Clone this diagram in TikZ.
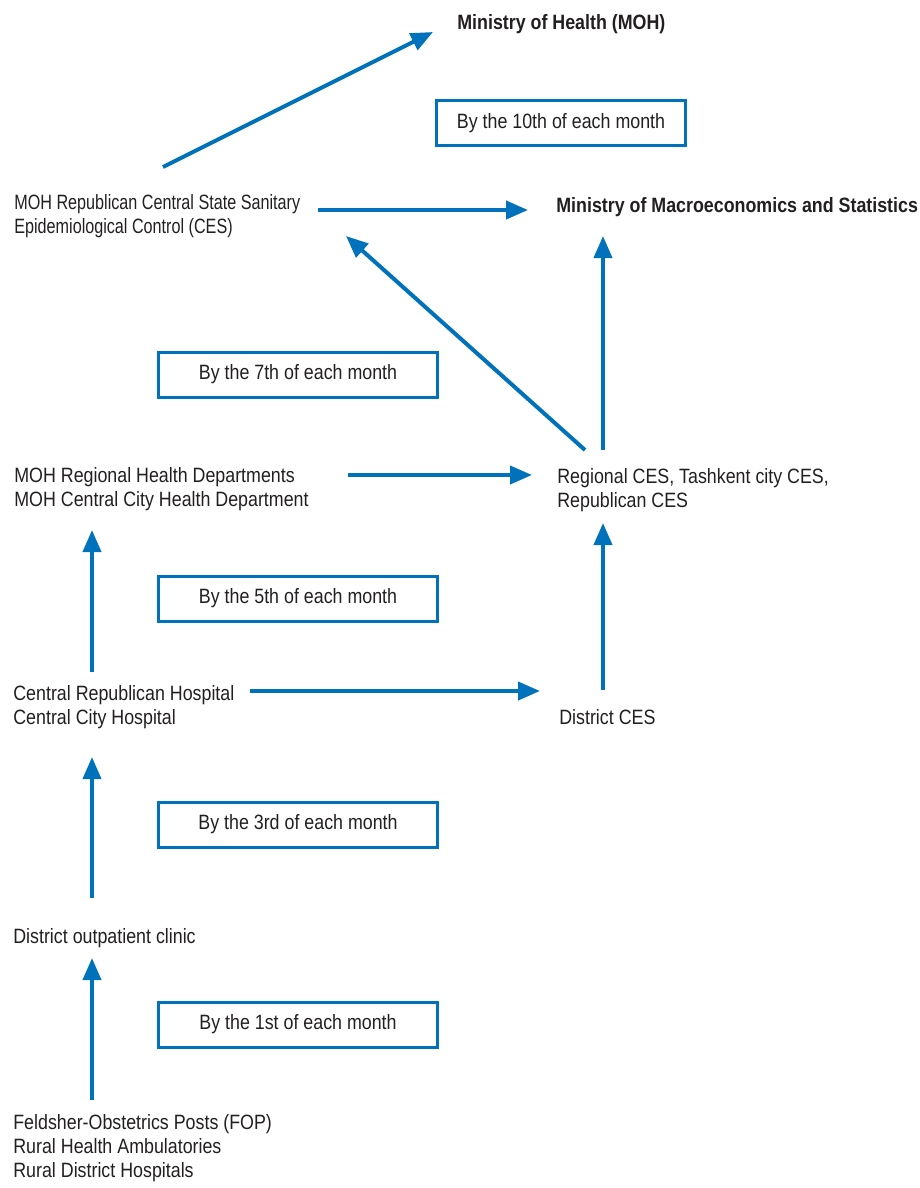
\documentclass[tikz,border=0pt]{standalone}
\usepackage{fontspec}
\setmainfont[FakeStretch=0.86]{Liberation Sans}
\newfontfamily\narrowfont[FakeStretch=0.78]{Liberation Sans}
\usepackage{tikz}
\usetikzlibrary{arrows.meta,calc}

\definecolor{flowblue}{RGB}{0,114,187}
\definecolor{inkgray}{RGB}{35,31,32}

\tikzset{
  unit/.style={anchor=north west,inner sep=0pt,align=left,text=inkgray,
    font=\fontsize{11.8}{13.6}\selectfont},
  deadline/.style={draw=flowblue,line width=0.6mm,minimum width=5.6cm,
    minimum height=0.9cm,text=inkgray,font=\fontsize{11.8}{13.6}\selectfont},
  flow/.style={draw=flowblue,line width=0.8mm,
    -{Triangle[length=4.4mm,width=3.6mm]}}
}

\begin{document}
\begin{tikzpicture}[x=0.02cm,y=-0.02cm]
\useasboundingbox (0,0) rectangle (920,1188);

% reporting units
\node[unit,font=\fontsize{11.8}{13.6}\selectfont\bfseries] (moh) at (457,14) {Ministry of Health (MOH)};
\node[unit,font=\fontsize{11.8}{13.6}\selectfont\bfseries] (macro) at (556,197) {Ministry of Macroeconomics and Statistics};
\node[unit,font=\fontsize{11.8}{13.6}\narrowfont] (ces) at (14,194) {MOH Republican Central State Sanitary\\Epidemiological Control (CES)};
\node[unit] (dept) at (14,467) {MOH Regional Health Departments\\MOH Central City Health Department};
\node[unit] (regces) at (557,468) {Regional CES, Tashkent city CES,\\Republican CES};
\node[unit] (hosp) at (13,685) {Central Republican Hospital\\Central City Hospital};
\node[unit] (distces) at (559,709) {District CES};
\node[unit] (clinic) at (13,928) {District outpatient clinic};
\node[unit] (fop) at (13,1114) {Feldsher-Obstetrics Posts (FOP)\\Rural Health Ambulatories\\Rural District Hospitals};

% deadlines
\node[deadline,minimum width=5cm] (d10) at (561,123) {By the 10th of each month};
\node[deadline] (d7) at (298,374.5) {By the 7th of each month};
\node[deadline] (d5) at (298,598.5) {By the 5th of each month};
\node[deadline] (d3) at (298,824.5) {By the 3rd of each month};
\node[deadline] (d1) at (298,1024.5) {By the 1st of each month};

% flows
\draw[flow] ($(ces.north west)+(149,-27)$) -- ($(moh.north west)+(-24,18)$);
\draw[flow] ($(ces.north west)+(304,16)$) -- ($(macro.north west)+(-28,13)$);
\draw[flow] ($(regces.north west)+(28,-18)$) -- ($(ces.north west)+(332,42)$);
\draw[flow] ($(regces.north west)+(46,-18)$) -- ($(macro.north west)+(47,39)$);
\draw[flow] ($(dept.north west)+(334,8)$) -- ($(regces.north west)+(-25,7)$);
\draw[flow] ($(hosp.north west)+(79,-13)$) -- ($(dept.north west)+(78,63)$);
\draw[flow] ($(distces.north west)+(44,-19)$) -- ($(regces.north west)+(46,55)$);
\draw[flow] ($(hosp.north west)+(237,6)$) -- ($(distces.north west)+(-19,-18)$);
\draw[flow] ($(clinic.north west)+(79,-30)$) -- ($(hosp.north west)+(79,72)$);
\draw[flow] ($(fop.north west)+(79,-14)$) -- ($(clinic.north west)+(79,30)$);
\end{tikzpicture}
\end{document}
